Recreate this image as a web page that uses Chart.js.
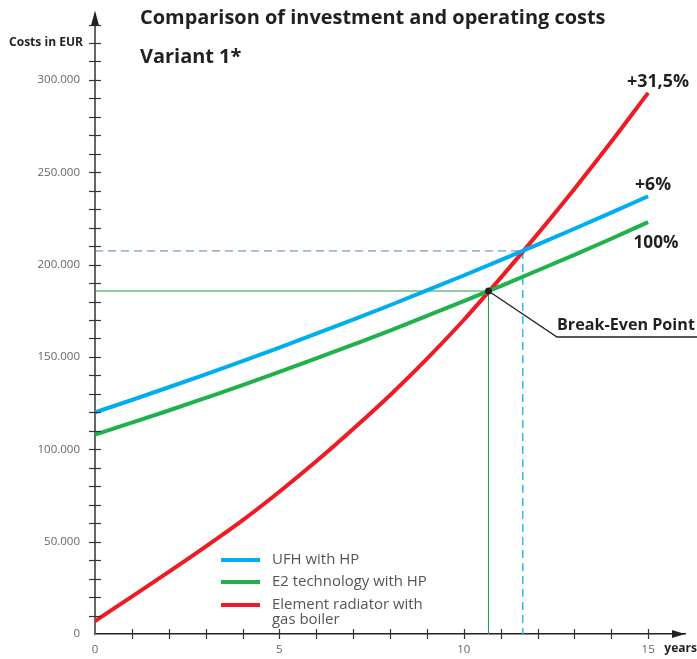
<!DOCTYPE html>
<html>
<head>
<meta charset="utf-8">
<script src="https://cdn.jsdelivr.net/npm/chart.js@4/dist/chart.umd.min.js"></script>
<style>
  html, body { margin: 0; padding: 0; background: #fff; }
  #wrap { width: 697px; height: 659px; position: relative; }
</style>
</head>
<body>
<div id="wrap"><canvas id="chart"></canvas></div>
<script>
// data (EUR, per year)
const years = [0, 1, 2, 3, 4, 5, 6, 7, 8, 9, 10, 11, 12, 13, 14, 15];
const ufh = [120000, 126700, 133600, 140600, 147800, 155100, 162600, 170200, 178000, 186000, 194100, 202400, 210800, 219400, 228100, 237000];
const e2 = [108000, 114400, 121000, 127800, 134700, 141900, 149200, 156700, 164300, 172200, 180200, 188400, 196800, 205300, 214000, 223000];
const gas = [7000, 20200, 33600, 47300, 61500, 77000, 93500, 111000, 129300, 149000, 170000, 192800, 216500, 241000, 266500, 293000];
const seriesLabels = ['UFH with HP', 'E2 technology with HP', 'Element radiator with|gas boiler'];
const endLabels = ['+6%', '100%', '+31,5%'];
const breakEven = [10.67, 185700];   // E2 vs gas
const ufhCross = [11.6, 207400];     // UFH vs gas
const colors = ['#00aeef', '#1fb24a', '#ed1c24'];

const pts = arr => years.map((y, i) => ({ x: y, y: arr[i] }));

const font = '"Open Sans", Lato, sans-serif';

// set a font size so the text gets roughly the wanted width
function fitFont(ctx, text, weight, width) {
  ctx.font = weight + ' 20px ' + font;
  const s = 20 * width / ctx.measureText(text).width;
  ctx.font = weight + ' ' + s.toFixed(2) + 'px ' + font;
}

// custom drawing: axis ticks, arrows, guides, labels, legend
const extras = {
  id: 'extras',
  beforeDatasetsDraw(chart) {
    const { ctx, scales: { x, y } } = chart;
    ctx.save();
    // guide lines for UFH crossing (dashed)
    const ux = x.getPixelForValue(ufhCross[0]), uy = y.getPixelForValue(ufhCross[1]);
    ctx.setLineDash([8, 5]);
    ctx.lineWidth = 1;
    ctx.strokeStyle = '#4f7fae';
    ctx.beginPath(); ctx.moveTo(x.left, uy); ctx.lineTo(ux, uy); ctx.stroke();
    ctx.lineWidth = 1.5;
    ctx.strokeStyle = '#2bbcf0';
    ctx.beginPath(); ctx.moveTo(ux, uy); ctx.lineTo(ux, y.bottom); ctx.stroke();
    ctx.setLineDash([]);
    // guide lines for break-even (thin green)
    const bx = x.getPixelForValue(breakEven[0]), by = y.getPixelForValue(breakEven[1]);
    ctx.strokeStyle = '#1a9a48';
    ctx.lineWidth = 1;
    ctx.beginPath(); ctx.moveTo(x.left, by); ctx.lineTo(bx, by); ctx.lineTo(bx, y.bottom); ctx.stroke();
    ctx.restore();
  },
  afterDraw(chart) {
    const { ctx, scales: { x, y } } = chart;
    ctx.save();
    // ticks crossing the axes
    ctx.strokeStyle = '#333';
    ctx.lineWidth = 1.2;
    for (let v = 10000; v <= 330000; v += 10000) {
      const py = Math.round(y.getPixelForValue(v)) + 0.5;
      ctx.beginPath(); ctx.moveTo(x.left - 6, py); ctx.lineTo(x.left + 6, py); ctx.stroke();
    }
    for (let t = 1; t <= 15; t++) {
      const px = Math.round(x.getPixelForValue(t)) + 0.5;
      ctx.beginPath(); ctx.moveTo(px, y.bottom - 5); ctx.lineTo(px, y.bottom + 5); ctx.stroke();
    }
    // arrows
    ctx.fillStyle = '#222';
    ctx.beginPath();
    ctx.moveTo(x.left, y.top - 14); ctx.lineTo(x.left - 4, y.top + 1); ctx.lineTo(x.left + 4, y.top + 1);
    ctx.closePath(); ctx.fill();
    ctx.beginPath();
    ctx.moveTo(x.right, y.bottom); ctx.lineTo(x.right - 13, y.bottom - 4); ctx.lineTo(x.right - 13, y.bottom + 4);
    ctx.closePath(); ctx.fill();

    // break-even dot and leader
    const bx = x.getPixelForValue(breakEven[0]), by = y.getPixelForValue(breakEven[1]);
    ctx.strokeStyle = '#222';
    ctx.lineWidth = 1.3;
    ctx.beginPath(); ctx.moveTo(bx, by); ctx.lineTo(557, 337); ctx.lineTo(697, 337); ctx.stroke();
    ctx.beginPath(); ctx.arc(bx, by, 3.5, 0, Math.PI * 2); ctx.fill();

    ctx.fillStyle = '#231f20';
    ctx.textBaseline = 'middle';
    ctx.textAlign = 'left';
    fitFont(ctx, 'Break-Even Point', 'bold', 138);
    ctx.fillText('Break-Even Point', 557, 325);

    // end labels
    ctx.textAlign = 'center';
    fitFont(ctx, endLabels[2], 'bold', 62);
    ctx.fillText(endLabels[2], 658, 82);
    fitFont(ctx, endLabels[0], 'bold', 36);
    ctx.fillText(endLabels[0], 653, 185);
    fitFont(ctx, endLabels[1], 'bold', 45);
    ctx.fillText(endLabels[1], 656, 243);

    // titles
    ctx.textAlign = 'left';
    fitFont(ctx, 'Comparison of investment and operating costs', 'bold', 466);
    ctx.fillText('Comparison of investment and operating costs', 140, 18);
    ctx.fillText('Variant 1*', 140, 57);

    ctx.textAlign = 'right';
    fitFont(ctx, 'Costs in EUR', 'bold', 74);
    ctx.fillText('Costs in EUR', 83, 43);
    ctx.fillText('years', 697, 649);

    // legend
    ctx.textAlign = 'left';
    fitFont(ctx, seriesLabels[1], 'normal', 155);
    const rows = [560, 582, 605];
    chart.data.datasets.forEach((ds, i) => {
      ctx.strokeStyle = ds.borderColor;
      ctx.lineWidth = 4;
      ctx.beginPath(); ctx.moveTo(221, rows[i]); ctx.lineTo(260, rows[i]); ctx.stroke();
      ctx.fillStyle = '#555';
      ds.label.split('|').forEach((line, k) => ctx.fillText(line, 272, rows[i] + k * 15));
    });
    ctx.restore();
  }
};

new Chart(document.getElementById('chart'), {
  type: 'line',
  data: {
    datasets: [
      { label: seriesLabels[0], data: pts(ufh), borderColor: colors[0] },
      { label: seriesLabels[1], data: pts(e2), borderColor: colors[1] },
      { label: seriesLabels[2], data: pts(gas), borderColor: colors[2] }
    ]
  },
  options: {
    responsive: true,
    maintainAspectRatio: false,
    animation: false,
    devicePixelRatio: 1,
    layout: { autoPadding: false, padding: { top: 24.5, right: 12, left: 0, bottom: 0 } },
    elements: {
      line: { borderWidth: 4, cubicInterpolationMode: 'monotone', fill: false },
      point: { radius: 0 }
    },
    plugins: { legend: { display: false }, tooltip: { enabled: false } },
    scales: {
      x: {
        type: 'linear', min: 0, max: 16,
        afterFit: s => { s.height = 25; },
        grid: { display: false },
        border: { color: '#222', width: 1.5 },
        ticks: {
          stepSize: 1, padding: 1, color: '#666', font: { family: font, size: 11.5 },
          maxRotation: 0, autoSkip: false,
          callback: v => (v % 5 === 0 && v <= 15 ? String(v) : '')
        }
      },
      y: {
        min: 0, max: 330000,
        afterFit: s => { s.width = 95; },
        grid: { display: false },
        border: { color: '#666', width: 2 },
        ticks: {
          stepSize: 10000, padding: 7, color: '#666', font: { family: font, size: 11.5 },
          autoSkip: false,
          callback: v => (v % 50000 === 0 && v <= 300000 ? (v === 0 ? '0' : (v / 1000) + '.000') : '')
        }
      }
    }
  },
  plugins: [extras]
});
</script>
</body>
</html>
